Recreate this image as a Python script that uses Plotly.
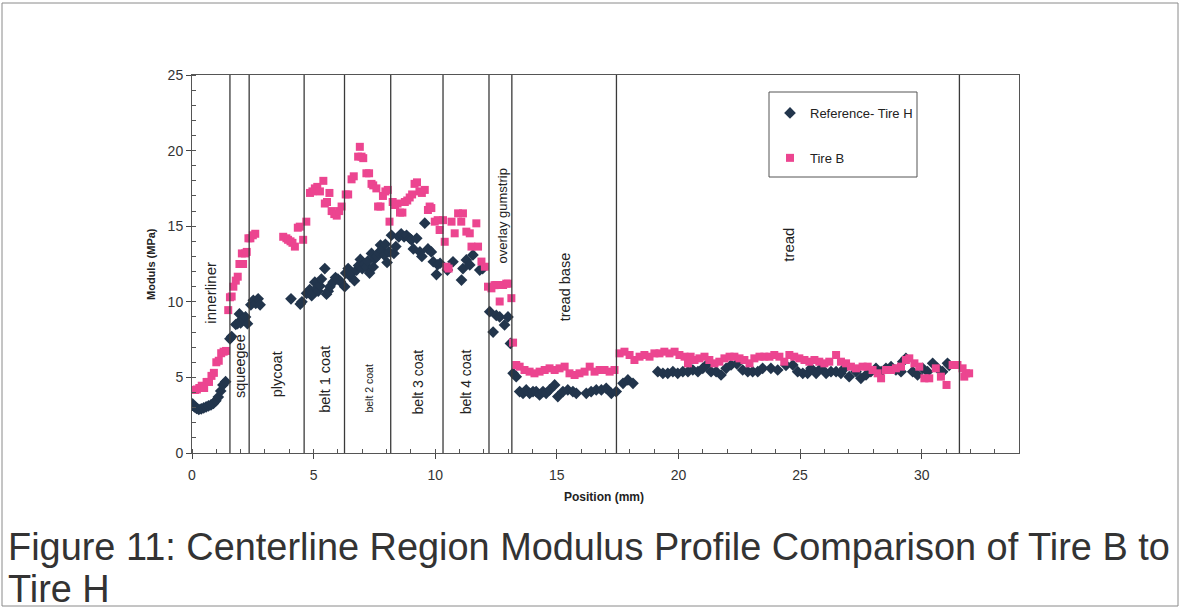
import plotly.graph_objects as go

# ---------------- data ----------------
tireH_x = [0.02, 0.1, 0.19, 0.28, 0.38, 0.48, 0.58, 0.68, 0.78, 0.88, 0.98, 1.08, 1.18, 1.27, 1.38,
           1.56, 1.63, 1.8, 1.87, 1.95, 2.0, 2.1, 2.2, 2.28, 2.42, 2.52, 2.62, 2.72, 2.8,
           4.07, 4.45, 4.52,
           4.71, 4.84, 4.92, 4.98, 5.05, 5.12, 5.19, 5.26, 5.32, 5.46, 5.53, 5.6, 5.67, 5.8, 5.9, 6.0, 6.1,
           6.28, 6.32, 6.42, 6.5, 6.57, 6.68, 6.77, 6.85, 6.92, 7.0, 7.1, 7.17, 7.23, 7.3, 7.38, 7.45, 7.52,
           7.6, 7.67, 7.75, 7.82, 7.9, 7.95, 8.02, 8.1,
           8.2, 8.3, 8.38, 8.5, 8.6, 8.72, 8.82, 8.95, 9.02, 9.1, 9.24, 9.37, 9.45, 9.57, 9.7, 9.84, 9.92,
           10.05, 10.1, 10.2,
           10.5, 10.73, 11.08, 11.14, 11.28, 11.42, 11.55, 11.83, 11.95,
           12.24, 12.38, 12.51, 12.65, 12.85, 12.99, 13.09,
           13.2, 13.33, 13.47, 13.61, 13.74, 13.88, 14.02, 14.15, 14.29, 14.43, 14.56, 14.7, 14.91, 15.04,
           15.25, 15.45, 15.66, 15.8, 16.21, 16.41, 16.62, 16.83, 17.03, 17.24, 17.44,
           17.72, 17.92, 18.13,
           19.15, 19.36, 19.56, 19.77, 19.97, 20.18, 20.39, 20.59, 20.8, 21.0, 21.14, 21.34, 21.55, 21.75,
           21.96, 22.16, 22.4, 22.64, 22.85, 23.05, 23.26, 23.46, 23.8, 24.08, 24.42, 24.7, 24.9, 25.11,
           25.31, 25.45, 25.66, 25.86, 26.07, 26.27, 26.48, 26.68, 26.82, 27.02, 27.3, 27.5, 27.71, 27.91,
           28.12, 28.33, 28.53, 28.74, 28.94, 29.15, 29.22, 29.35, 29.63, 29.83, 30.04, 30.24, 30.45,
           30.66, 30.86, 31.06, 31.13]
tireH_y = [3.25, 3.05, 2.95, 2.88, 2.92, 2.98, 3.05, 3.12, 3.18, 3.28, 3.45, 3.7, 4.1, 4.5, 4.72,
           7.55, 7.7, 8.5, 8.55, 9.2, 8.6, 8.9, 9.0, 8.55, 9.8, 10.1, 9.9, 10.2, 9.8,
           10.2, 9.85, 10.0,
           10.56, 10.8, 10.4, 10.6, 11.3, 10.9, 10.7, 11.05, 11.5, 12.2, 10.5, 10.7, 11.0, 11.3, 11.6, 11.5, 11.35,
           11.0, 11.9, 12.2, 11.7, 11.9, 11.4, 12.1, 12.4, 12.8, 12.2, 12.5, 12.3, 12.7, 11.9, 13.2, 12.3, 12.85,
           13.0, 13.25, 13.75, 13.4, 13.1, 13.8, 12.6, 13.3,
           14.4, 13.2, 13.65, 14.3, 14.5, 14.3, 14.4, 14.2, 14.1, 13.5, 14.2, 13.3, 13.0, 15.2, 13.5, 13.3, 12.65,
           11.8, 12.45, 12.55,
           12.1, 12.65, 11.44, 12.2, 12.77, 12.44, 13.1, 12.1, 12.2,
           9.35, 8.0, 9.1, 9.0, 8.47, 9.0, 7.25,
           5.27, 5.05, 4.06, 3.95, 4.17, 3.95, 4.06, 4.06, 3.84, 4.06, 3.95, 4.17, 4.5, 3.73,
           4.06, 4.17, 4.06, 3.95, 3.95, 4.06, 4.17, 4.17, 4.28, 3.95, 4.06,
           4.61, 4.83, 4.61,
           5.38, 5.27, 5.27, 5.38, 5.27, 5.38, 5.38, 5.49, 5.38, 5.6, 5.8, 5.38, 5.38, 5.16,
           5.6, 5.82, 5.9, 5.49, 5.38, 5.38, 5.38, 5.6, 5.6, 5.49, 5.8, 5.82, 5.38, 5.27,
           5.27, 5.6, 5.27, 5.6, 5.27, 5.38, 5.38, 5.27, 5.6, 5.05, 5.38, 4.94, 5.16, 5.38,
           5.6, 5.38, 5.6, 5.71, 5.49, 5.38, 6.04, 6.26, 5.38, 5.16, 5.6, 5.38, 5.93,
           5.6, 5.38, 5.93, 5.8]

tireB_x = [0.12, 0.2, 0.3, 0.4, 0.5, 0.6, 0.7, 0.8, 0.9, 1.0, 1.1, 1.2, 1.3, 1.4,
           1.49, 1.56, 1.63, 1.7, 1.8, 1.88, 1.95, 2.05, 2.1, 2.18, 2.25, 2.32, 2.4, 2.5, 2.6,
           3.75, 3.88, 3.95, 4.05, 4.13, 4.23, 4.35, 4.43, 4.57, 4.7,
           4.85, 4.95, 5.05, 5.15, 5.26, 5.4, 5.46, 5.55, 5.65, 5.74, 5.85, 5.95, 6.05, 6.15,
           6.32, 6.42, 6.56, 6.65, 6.83, 6.9, 6.97, 7.04, 7.17, 7.28, 7.38, 7.45, 7.58, 7.65, 7.75, 7.85,
           7.95, 8.05, 8.12,
           8.25, 8.35, 8.45, 8.55, 8.65, 8.75, 8.85, 8.95, 9.05, 9.15, 9.25, 9.35, 9.45, 9.57, 9.7, 9.77,
           9.84, 9.98, 10.1, 10.18, 10.32, 10.39, 10.46, 10.55, 10.67, 10.8, 10.94, 11.07, 11.14, 11.28,
           11.42, 11.49, 11.69, 11.76, 11.9, 12.04,
           12.17, 12.31, 12.44, 12.51, 12.65, 12.79, 12.92, 12.99, 13.13, 13.2,
           13.33, 13.47, 13.67, 13.88, 14.08, 14.29, 14.5, 14.7, 14.91, 15.11, 15.32, 15.52, 15.73, 15.93,
           16.14, 16.35, 16.55, 16.76, 16.96, 17.17, 17.37,
           17.58, 17.78, 17.99, 18.19, 18.4, 18.6, 18.81, 19.01, 19.22, 19.42, 19.63, 19.84, 20.04, 20.25,
           20.39, 20.5, 20.66, 20.86, 21.07, 21.27, 21.48, 21.68, 21.89, 22.1, 22.3, 22.51, 22.71, 22.92,
           23.12, 23.33, 23.53, 23.74, 23.94, 24.15, 24.35, 24.56, 24.76, 24.97, 25.18, 25.38, 25.59,
           25.79, 26.0, 26.2, 26.48, 26.68, 26.89, 27.09, 27.3, 27.57, 27.78, 27.98, 28.19, 28.33, 28.53,
           28.74, 28.94, 29.15, 29.35, 29.49, 29.7, 29.9, 30.11, 30.31, 30.58, 30.79, 31.02, 31.27, 31.47,
           31.68, 31.75, 31.82, 31.95]
tireB_y = [4.17, 4.2, 4.3, 4.45, 4.3, 4.7, 4.7, 5.1, 5.3, 6.0, 6.1, 6.6, 6.7, 6.75,
           9.45, 10.3, 10.35, 11.0, 11.4, 11.66, 12.5, 13.2, 12.5, 13.2, 13.3, 14.2, 14.2, 14.4, 14.5,
           14.3, 14.2, 14.1, 14.0, 13.9, 13.65, 14.9, 14.97, 14.1, 15.3,
           17.2, 17.3, 17.5, 17.6, 17.3, 18.0, 16.5, 16.6, 17.2, 16.0, 15.8, 15.7, 16.0, 16.3,
           17.1, 17.1, 18.1, 18.3, 19.6, 20.25, 19.6, 19.5, 18.5, 18.5, 17.8, 17.7, 17.5, 16.3, 16.3, 17.0,
           17.3, 17.4, 15.3,
           16.6, 16.4, 16.5, 15.9, 15.9, 16.6, 16.7, 16.9, 17.1, 17.8, 17.9, 17.3, 17.2, 17.4, 16.07, 16.3,
           16.2, 15.3, 15.4, 14.75, 15.4, 13.97, 12.32, 12.2, 15.3, 14.53, 15.85, 15.3, 15.85, 14.64,
           14.53, 13.65, 15.19, 13.65, 12.66, 12.32,
           11.0, 10.89, 11.1, 11.11, 10.02, 11.11, 11.2, 11.2, 10.24, 7.3,
           5.82, 5.71, 5.49, 5.38, 5.27, 5.38, 5.49, 5.6, 5.49, 5.6, 5.71, 5.27, 5.16, 5.27,
           5.38, 5.71, 5.38, 5.49, 5.49, 5.38, 5.49,
           6.59, 6.7, 6.48, 6.15, 6.37, 6.48, 6.37, 6.59, 6.59, 6.7, 6.59, 6.7, 6.48, 6.37,
           5.93, 6.37, 6.15, 6.26, 6.37, 6.15, 5.93, 6.04, 6.26, 6.37, 6.37, 6.26, 6.15, 5.93,
           6.26, 6.37, 6.37, 6.37, 6.48, 6.37, 6.04, 6.48, 6.37, 6.26, 6.15, 6.04, 6.15,
           6.04, 5.93, 6.04, 6.48, 6.04, 5.93, 5.71, 5.6, 5.71, 5.71, 5.49, 5.27, 4.94, 5.49,
           5.49, 5.6, 5.71, 6.15, 6.26, 5.93, 5.71, 4.94, 4.94, 5.6, 5.05, 4.5, 5.82, 5.82,
           5.6, 5.05, 5.27, 5.27]

# layer boundaries (mm)
boundaries = [1.56, 2.35, 4.61, 6.27, 8.17, 10.32, 12.21, 13.15, 17.45, 31.55]

# layer labels: text, x, y, font size
layer_names = ["innerliner", "squeegee", "plycoat", "belt 1 coat", "belt 2 coat", "belt 3 coat",
               "belt 4 coat", "overlay gumstrip", "tread base", "tread"]
layer_x = [0.78, 1.97, 3.53, 5.46, 7.26, 9.27, 11.28, 12.78, 15.32, 24.49]
layer_y = [10.6, 5.75, 5.2, 4.9, 4.3, 4.7, 4.7, 15.7, 11.0, 13.75]
layer_size = [15, 14.5, 14.5, 14.5, 10.5, 14, 14, 13, 14.5, 15]

x_ticks = [0, 5, 10, 15, 20, 25, 30]
y_ticks = [0, 5, 10, 15, 20, 25]

PINK = "#EC4590"
NAVY = "#22354C"
FONT = "Liberation Sans, Arial, sans-serif"

fig = go.Figure()
fig.add_trace(go.Scatter(x=tireH_x, y=tireH_y, mode="markers", name="Reference- Tire H",
                         legendgroup="h",
                         marker=dict(symbol="diamond", size=9, color=NAVY)))
fig.add_trace(go.Scatter(x=tireB_x, y=tireB_y, mode="markers", name="Tire B",
                         legendgroup="b",
                         marker=dict(symbol="square", size=8, color=PINK)))

# plot-area geometry in page pixels
L, T, W, H = 192, 75, 827, 378


def px(xp):
    return (xp - L) / W


def py(yp):
    return ((T + H) - yp) / H


shapes = []
for b in boundaries:
    shapes.append(dict(type="line", xref="x", yref="y", x0=b, x1=b, y0=0, y1=25,
                       line=dict(color="#3a3a3a", width=1.3)))
# legend box
shapes.append(dict(type="rect", xref="paper", yref="paper", x0=px(769), x1=px(917), y0=py(177), y1=py(92),
                   line=dict(color="#555", width=1)))
# outer frame of the page
shapes.append(dict(type="rect", xref="paper", yref="paper", x0=px(2), x1=px(1178), y0=py(606), y1=py(3),
                   line=dict(color="#8a8a8a", width=1)))

annotations = []
for n, lx, ly, s in zip(layer_names, layer_x, layer_y, layer_size):
    annotations.append(dict(x=lx, y=ly, xref="x", yref="y", text=n, textangle=-90, showarrow=False,
                            font=dict(family=FONT, size=s, color="#222")))
annotations.append(dict(x=px(151), y=py(264), xref="paper", yref="paper", xanchor="center", yanchor="middle",
                        text="<b>Moduls (MPa)</b>",
                        textangle=-90, showarrow=False, font=dict(family=FONT, size=11, color="#222")))
annotations.append(dict(x=px(604), y=py(497), xref="paper", yref="paper", xanchor="center", yanchor="middle",
                        text="<b>Position (mm)</b>",
                        showarrow=False, font=dict(family=FONT, size=12, color="#222")))
annotations.append(dict(x=px(6), y=py(547), xref="paper", yref="paper", xanchor="left", yanchor="middle",
                        text="Figure 11: Centerline Region Modulus Profile Comparison of Tire B to",
                        showarrow=False, font=dict(family=FONT, size=37.9, color="#333")))
annotations.append(dict(x=px(6), y=py(589), xref="paper", yref="paper", xanchor="left", yanchor="middle",
                        text="Tire H", showarrow=False, font=dict(family=FONT, size=37.9, color="#333")))

fig.update_layout(
    width=1181, height=609,
    margin=dict(l=L, r=1181 - (L + W), t=T, b=609 - (T + H), pad=0),
    paper_bgcolor="white", plot_bgcolor="white",
    font=dict(family=FONT, color="#333"),
    shapes=shapes, annotations=annotations,
    legend=dict(x=px(770), y=py(98), xanchor="left", yanchor="top",
                borderwidth=0, bgcolor="rgba(0,0,0,0)",
                font=dict(family=FONT, size=13, color="#222"),
                tracegroupgap=25, itemwidth=30),
    showlegend=True,
)
fig.update_xaxes(range=[0, 34], tickvals=x_ticks, ticks="outside", ticklen=5, tickcolor="#444",
                 showgrid=False, zeroline=False, showline=True, linecolor="#555", linewidth=1, mirror=True,
                 tickfont=dict(size=14, color="#333"), ticklabelstandoff=4,
                 minor=dict(dtick=1, tick0=0, ticks="inside", ticklen=4, tickcolor="#555", showgrid=False))
fig.update_yaxes(range=[0, 25], tickvals=y_ticks, ticks="outside", ticklen=5, tickcolor="#444",
                 showgrid=False, zeroline=False, showline=True, linecolor="#555", linewidth=1, mirror=True,
                 tickfont=dict(size=14, color="#333"),
                 minor=dict(dtick=1, tick0=0, ticks="inside", ticklen=4, tickcolor="#555", showgrid=False))

# remove the default page margin so the 1181x609 figure fills the window exactly
fig.write_html("out.html", config={"displayModeBar": False},
               post_script="document.body.style.margin='0px';document.body.style.overflow='hidden';")
